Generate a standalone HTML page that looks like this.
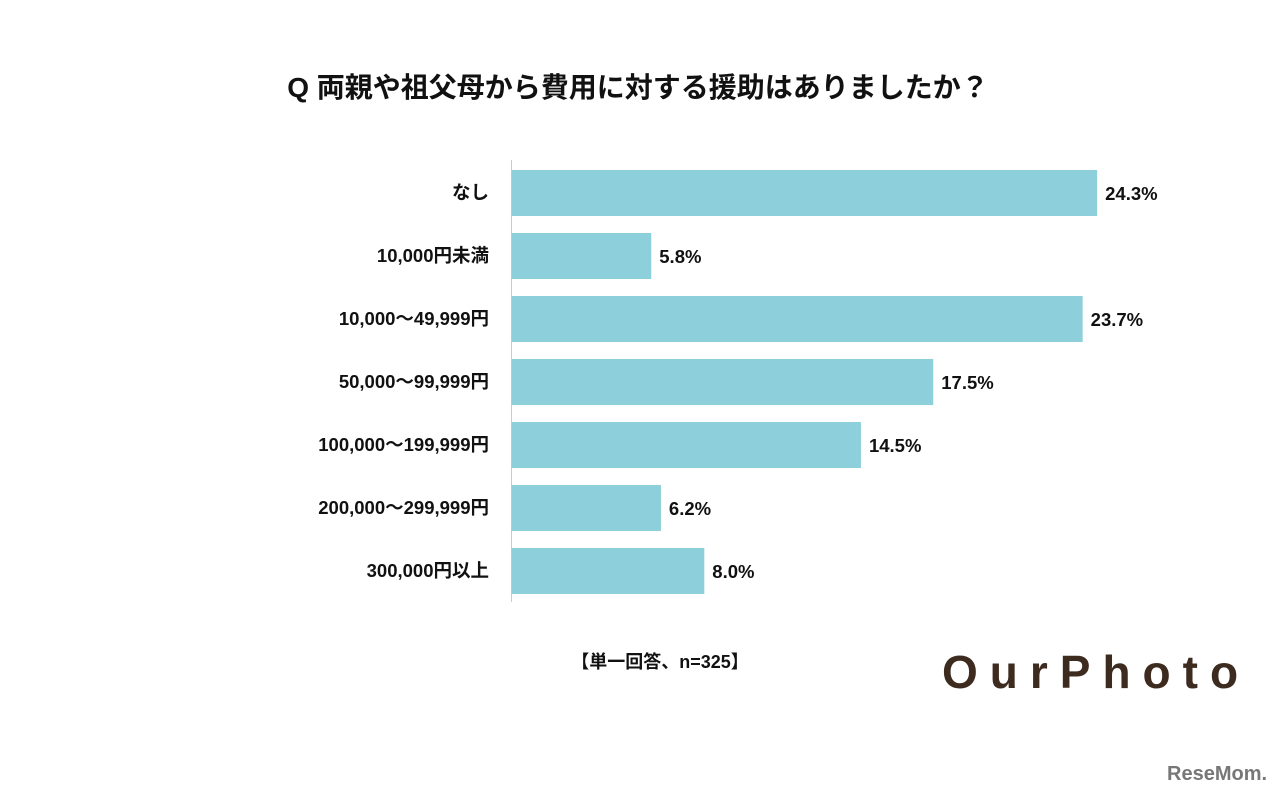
<!DOCTYPE html>
<html><head><meta charset="utf-8">
<style>
body{margin:0;width:1280px;height:795px;background:#fff;overflow:hidden;font-family:"Liberation Sans","Noto Sans CJK JP",sans-serif;}
svg text{font-family:"Liberation Sans","Noto Sans CJK JP",sans-serif;}
</style></head><body>
<svg id="chart" width="1280" height="795">
<text x="638" y="97" text-anchor="middle" font-size="28" font-weight="bold" fill="#111">Q 両親や祖父母から費用に対する援助はありましたか？</text>
<line x1="511.5" y1="160" x2="511.5" y2="602" stroke="#ccc" stroke-width="1"/>
<g id="bars"></g>
<text x="660" y="668" text-anchor="middle" font-size="18" font-weight="bold" fill="#111">【単一回答、n=325】</text>
<text x="942" y="688" font-size="46" fill="#3d2b1f" letter-spacing="12" font-weight="bold">OurPhoto</text>
<text x="1167" y="780" font-size="20" font-weight="bold" fill="#777">ReseMom.</text>
</svg>
<script>
const categories=["なし","10,000円未満","10,000〜49,999円","50,000〜99,999円","100,000〜199,999円","200,000〜299,999円","300,000円以上"];
const values=[24.3,5.8,23.7,17.5,14.5,6.2,8.0];
const labels=["24.3%","5.8%","23.7%","17.5%","14.5%","6.2%","8.0%"];
const x0=511.5,pxPer=24.1,yTop=161.5,step=63,bh=46;
const xs=v=>x0+v*pxPer;
const yc=i=>yTop+step*i+step/2;
const g=document.getElementById('bars');
const ns='http://www.w3.org/2000/svg';
categories.forEach((c,i)=>{
  const r=document.createElementNS(ns,'rect');
  r.setAttribute('x',x0);r.setAttribute('y',yc(i)-bh/2);
  r.setAttribute('width',xs(values[i])-x0);r.setAttribute('height',bh);
  r.setAttribute('fill','#8dd0dc');
  
  
  g.appendChild(r);
  const t=document.createElementNS(ns,'text');
  t.setAttribute('x',489);t.setAttribute('y',yc(i)+6);
  t.setAttribute('text-anchor','end');t.setAttribute('font-size','18.5');
  t.setAttribute('font-weight','bold');t.setAttribute('fill','#111');
  t.textContent=c;
  
  
  g.appendChild(t);
  const v=document.createElementNS(ns,'text');
  v.setAttribute('x',xs(values[i])+8);v.setAttribute('y',yc(i)+7);
  v.setAttribute('font-size','18.5');v.setAttribute('font-weight','bold');v.setAttribute('fill','#111');
  v.textContent=labels[i];
  
  
  g.appendChild(v);
});
</script>
</body></html>
